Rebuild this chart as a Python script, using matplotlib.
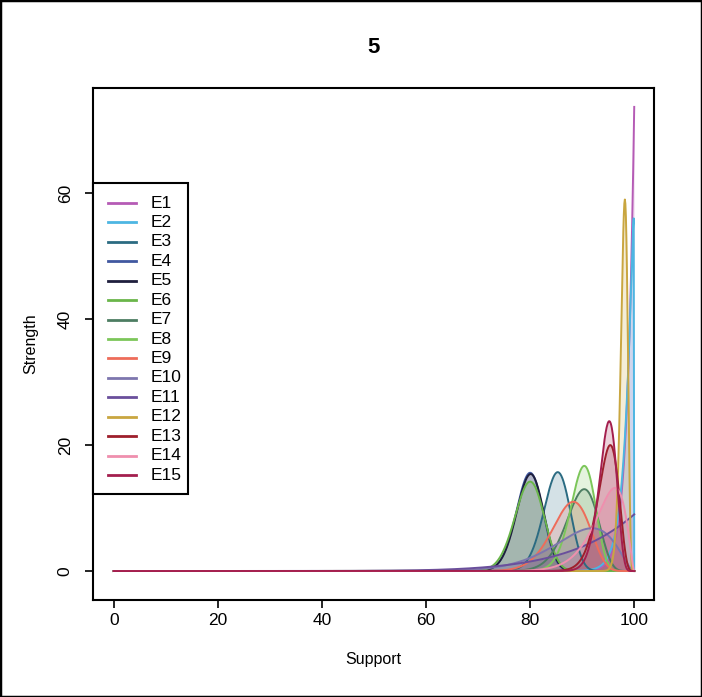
import math
import numpy as np
import matplotlib
matplotlib.use("Agg")
import matplotlib.pyplot as plt
from matplotlib.patches import Rectangle
from matplotlib.lines import Line2D

plt.rcParams['font.family'] = ['Liberation Sans', 'DejaVu Sans']

# Series names, colours, and where each density peaks (support %, strength)
series = ["E1", "E2", "E3", "E4", "E5", "E6", "E7", "E8",
          "E9", "E10", "E11", "E12", "E13", "E14", "E15"]
colors = ["#b55bb5", "#4db6e2", "#2b6b82", "#4158a0", "#1f1f3d",
          "#6ab64a", "#4d7d62", "#7cc65a", "#ee6c5a", "#7d76ae",
          "#6a4f9c", "#c9a640", "#9e1f2c", "#ef8fae", "#a41f4e"]
peak_support = [100.0, 99.9, 85.3, 80.0, 80.1, 80.0, 90.4, 90.4,
                88.3, 91.9, 100.0, 98.2, 95.4, 96.3, 95.2]
peak_strength = [73.7, 56.0, 15.7, 15.6, 15.4, 14.2, 13.0, 16.7,
                 11.0, 6.8, 9.0, 59.0, 20.0, 13.2, 23.8]

x_ticks = [0, 20, 40, 60, 80, 100]
y_ticks = [0, 20, 40, 60]

W, H = 702, 697


def beta_logpdf(u, a, b):
    lb = math.lgamma(a) + math.lgamma(b) - math.lgamma(a + b)
    with np.errstate(divide="ignore", invalid="ignore"):
        la = np.where(a - 1 == 0, 0.0, (a - 1) * np.log(u))
        lbb = np.where(b - 1 == 0, 0.0, (b - 1) * np.log1p(-u))
    return la + lbb - lb


def beta_shape(mode, height):
    """Beta shape parameters with the given mode and density at the mode."""
    lo, hi = 1e-3, 1e6
    for _ in range(200):
        k = math.sqrt(lo * hi)
        a = 1 + mode * k
        b = 1 + (1 - mode) * k
        h = float(np.exp(beta_logpdf(np.array([mode]), a, b))[0])
        if h < height:
            lo = k
        else:
            hi = k
    return a, b


def fx(px):
    return px / W


def fy(py):
    return 1 - py / H


grid = np.linspace(0, 1, 1001)
support = grid * 100

fig = plt.figure(figsize=(W / 100, H / 100), dpi=100)
ax = fig.add_axes([fx(93), fy(600), (654 - 93) / W, (600 - 88) / H])

for name, col, ps, pk in zip(series, colors, peak_support, peak_strength):
    a, b = beta_shape(min(ps / 100, 1.0), pk)
    dens = np.exp(beta_logpdf(grid, a, b))
    dens = np.nan_to_num(dens, nan=0.0, posinf=0.0)
    ax.fill_between(support, 0, dens, color=col, alpha=0.2, lw=0)
    ax.plot(support, dens, color=col, lw=1.4, label=name)

ax.set_xlim(-4, 103.8)
ax.set_ylim(-4.6, 76.7)
ax.set_xticks(x_ticks)
ax.set_yticks(y_ticks)
ax.set_xticklabels([str(v) for v in x_ticks])
ax.set_yticklabels([str(v) for v in y_ticks], rotation=90, va="center")
for sp in ax.spines.values():
    sp.set_linewidth(1.5)
ax.tick_params(direction="out", length=5.5, width=1.2, labelsize=12.5)
ax.tick_params(axis="x", pad=4)
ax.tick_params(axis="y", pad=9)

ax.set_xlabel("Support", fontsize=11.5, labelpad=17)
ax.set_ylabel("Strength", fontsize=11.5, labelpad=14)
ax.set_title("5", fontsize=16, fontweight="bold", pad=25)

# Legend box at the left edge of the panel, laid out the way base R does it
box_left, box_right, box_top, box_bottom = 93, 188, 183, 494
row0, row_step = 203, 19.43
fig.add_artist(Rectangle((fx(box_left), fy(box_bottom)),
                         fx(box_right) - fx(box_left), fy(box_top) - fy(box_bottom),
                         facecolor="white", edgecolor="black", lw=1.5,
                         transform=fig.transFigure, zorder=5))
for i, (name, col) in enumerate(zip(series, colors)):
    yy = fy(row0 + i * row_step)
    fig.add_artist(Line2D([fx(108), fx(136)], [yy, yy], color=col, lw=2.0,
                          transform=fig.transFigure, zorder=6))
    fig.text(fx(151), yy, name, fontsize=12.5, va="center", ha="left", zorder=6)

fig.add_artist(Rectangle((0, 0), 1, 1, fill=False, lw=2.5, edgecolor="black",
                         transform=fig.transFigure, clip_on=False))

fig.savefig("out.png", dpi=100)
